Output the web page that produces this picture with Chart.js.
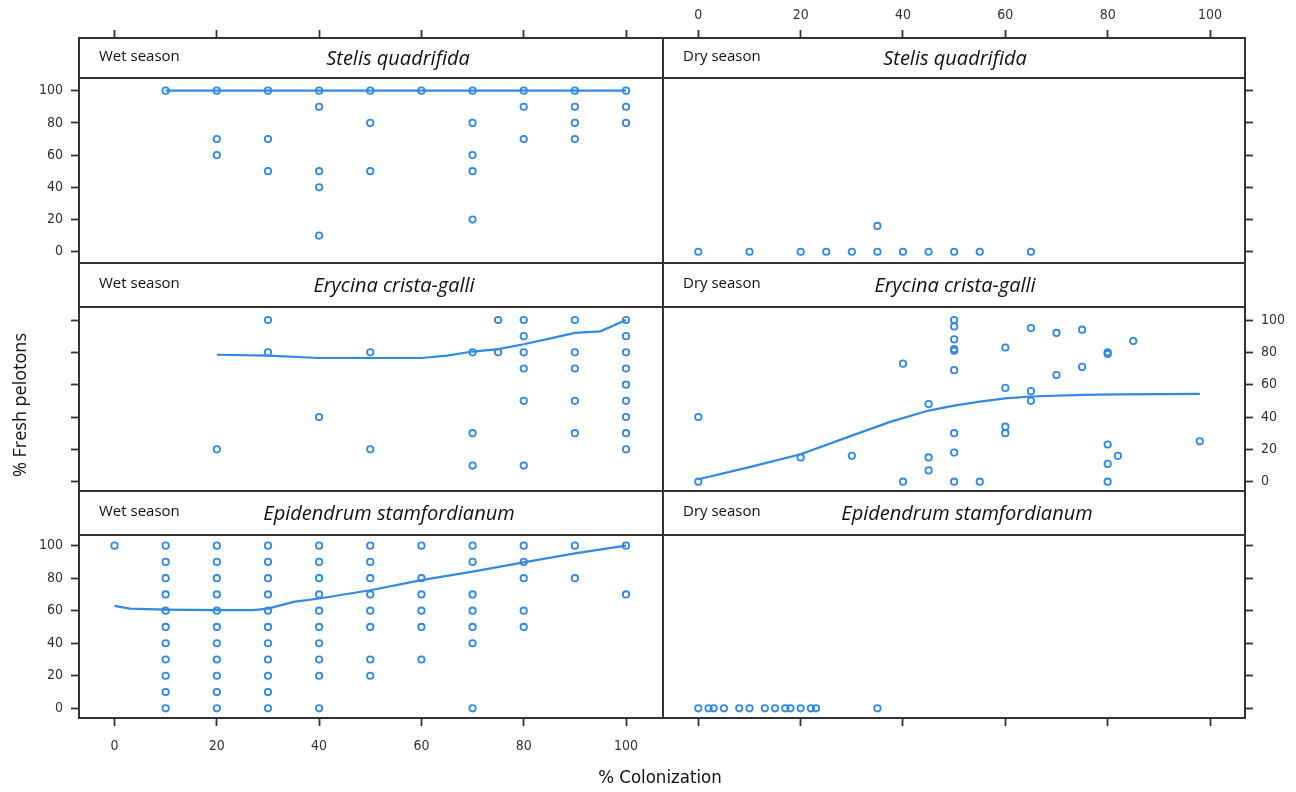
<!DOCTYPE html>
<html>
<head>
<meta charset="utf-8">
<script src="https://cdn.jsdelivr.net/npm/chart.js@4/dist/chart.umd.min.js"></script>
<style>
body{margin:0;background:#fff;width:1296px;height:792px;position:relative;overflow:hidden;font-family:'Open Sans',sans-serif;color:#111;}
canvas{position:absolute;left:0;top:0;}
.strip{position:absolute;box-sizing:border-box;border-bottom:2px solid #333;}
.season{position:absolute;font-size:15px;line-height:1;}
.sp{position:absolute;font-style:italic;font-size:20px;line-height:1;transform:translateX(-50%);white-space:nowrap;}
.ytitle{position:absolute;left:19px;top:405px;font-size:18px;transform:translate(-50%,-50%) rotate(-90deg);white-space:nowrap;}
.xtitle{position:absolute;left:660px;top:776px;font-size:18.5px;transform:translate(-50%,-50%);white-space:nowrap;font-family:'Liberation Sans Narrow','DejaVu Sans Condensed',sans-serif;}
</style>
</head>
<body>
<script>
const xTicks = [0, 20, 40, 60, 80, 100];
const yTicks = [0, 20, 40, 60, 80, 100];
const seasons = ['Wet season', 'Dry season'];
const species = ['Stelis quadrifida', 'Erycina crista-galli', 'Epidendrum stamfordianum'];

// Stelis quadrifida
const wetStelisX = [10, 20,20,20, 30,30,30, 40,40,40,40,40, 50,50,50, 60, 70,70,70,70,70, 80,80,80, 90,90,90,90, 100,100,100];
const wetStelisY = [100, 100,70,60, 100,70,50, 100,90,50,40,10, 100,80,50, 100, 100,80,60,50,20, 100,90,70, 100,90,80,70, 100,90,80];
const wetStelisFitX = [10, 100];
const wetStelisFitY = [100, 100];
const dryStelisX = [0, 10, 20, 25, 30, 35, 35, 40, 45, 50, 55, 65];
const dryStelisY = [0, 0, 0, 0, 0, 0, 16, 0, 0, 0, 0, 0];

// Erycina crista-galli
const wetErycinaX = [20, 30,30, 40, 50,50, 70,70,70, 75,75, 80,80,80,80,80,80, 90,90,90,90,90, 100,100,100,100,100,100,100,100,100];
const wetErycinaY = [20, 100,80, 40, 80,20, 80,30,10, 100,80, 100,90,80,70,50,10, 100,80,70,50,30, 100,90,80,70,60,50,40,30,20];
const wetErycinaFitX = [20, 30, 40, 50, 60, 65, 70, 75, 80, 85, 90, 95, 100];
const wetErycinaFitY = [78.5, 78, 76.5, 76.5, 76.5, 78, 80.5, 82, 85, 88.5, 92, 93, 100];
const dryErycinaX = [0,0, 20, 30, 40,40, 45,45,45, 50,50,50,50,50,50,50,50,50, 55, 60,60,60,60, 65,65,65, 70,70, 75,75, 80,80,80,80,80, 82, 85, 98];
const dryErycinaY = [40,0, 15, 16, 73,0, 48,15,7, 100,96,88,82,81,69,30,18,0, 0, 83,58,34,30, 95,56,50, 92,66, 94,71, 80,79,23,11,0, 16, 87, 25];
const dryErycinaFitX = [0, 10, 20, 30, 37.5, 45, 50, 55, 60, 65, 75, 82, 98];
const dryErycinaFitY = [1.5, 9, 17, 28.5, 37, 44, 47, 49.5, 51.5, 52.7, 53.7, 54, 54.3];

// Epidendrum stamfordianum
const wetEpiX = [0,
  10,10,10,10,10,10,10,10,10,10,10,
  20,20,20,20,20,20,20,20,20,20,20,
  30,30,30,30,30,30,30,30,30,30,30,
  40,40,40,40,40,40,40,40,40,40,
  50,50,50,50,50,50,50,50,
  60,60,60,60,60,60,
  70,70,70,70,70,70,70,
  80,80,80,80,80,
  90,90, 100,100];
const wetEpiY = [100,
  100,90,80,70,60,50,40,30,20,10,0,
  100,90,80,70,60,50,40,30,20,10,0,
  100,90,80,70,60,50,40,30,20,10,0,
  100,90,80,70,60,50,40,30,20,0,
  100,90,80,70,60,50,30,20,
  100,80,70,60,50,30,
  100,90,70,60,50,40,0,
  100,90,80,60,50,
  100,80, 100,70];
const wetEpiFitX = [0, 3, 10, 20, 27, 30, 35, 40, 50, 60, 70, 80, 90, 100];
const wetEpiFitY = [63, 61.3, 60.7, 60.3, 60.3, 61.3, 65.4, 67.5, 72.6, 78.8, 84, 89.7, 95.3, 100];
const dryEpiX = [0, 2, 3, 5, 8, 10, 13, 15, 17, 18, 20, 22, 23, 35];
const dryEpiY = [0, 0, 0, 0, 0, 0, 0, 0, 0, 0, 0, 0, 0, 0];

const panels = [
  {row: 0, col: 0, x: wetStelisX, y: wetStelisY, fx: wetStelisFitX, fy: wetStelisFitY},
  {row: 0, col: 1, x: dryStelisX, y: dryStelisY},
  {row: 1, col: 0, x: wetErycinaX, y: wetErycinaY, fx: wetErycinaFitX, fy: wetErycinaFitY},
  {row: 1, col: 1, x: dryErycinaX, y: dryErycinaY, fx: dryErycinaFitX, fy: dryErycinaFitY},
  {row: 2, col: 0, x: wetEpiX, y: wetEpiY, fx: wetEpiFitX, fy: wetEpiFitY},
  {row: 2, col: 1, x: dryEpiX, y: dryEpiY}
];

// panel boxes in page pixels, axis limits so the strip sits inside the chart area
const cols = [
  {l: 79, r: 663, min: -6.94, max: 107.23},
  {l: 663, r: 1245, min: -6.9, max: 106.84}
];
const rows = [
  {t: 38, s: 78, b: 263, min: -7, max: 132.7},
  {t: 263, s: 307, b: 491, min: -5.75, max: 135.25},
  {t: 491, s: 535, b: 718, min: -5.97, max: 133.6}
];
const speciesX = [[398, 955], [394, 955], [389, 967]];

const W = 1296, H = 792, AX = 40, AY = 34;
const BLUE = '#3089e2';
const FRAME = '#333';
const tickFont = {family: "'Liberation Sans Narrow', 'DejaVu Sans Condensed', sans-serif", size: 14};

function axis(pos, min, max, vals, showTicks, showLabels) {
  const pad = {left: 8, right: 8, top: 6, bottom: 12};
  return {
    type: 'linear',
    position: pos,
    min: min,
    max: max,
    afterBuildTicks: s => { s.ticks = vals.map(v => ({value: v})); },
    afterFit: s => { if (pos === 'top' || pos === 'bottom') s.height = AY; else s.width = AX; },
    grid: {drawOnChartArea: false, drawTicks: showTicks, tickLength: 8, tickColor: FRAME, tickWidth: 1.8},
    border: {display: true, color: FRAME, width: 2},
    ticks: {display: showLabels, color: '#333', font: tickFont, padding: pad[pos]}
  };
}

panels.forEach(p => {
  const c = cols[p.col], r = rows[p.row];
  const cv = document.createElement('canvas');
  cv.width = W; cv.height = H;
  document.body.appendChild(cv);

  const datasets = [{
    data: p.x.map((v, i) => ({x: v, y: p.y[i]})),
    pointRadius: 3.2,
    pointBorderWidth: 1.8,
    borderColor: BLUE,
    backgroundColor: 'rgba(0,0,0,0)',
    showLine: false
  }];
  if (p.fx) {
    datasets.push({
      data: p.fx.map((v, i) => ({x: v, y: p.fy[i]})),
      showLine: true,
      pointRadius: 0,
      borderColor: BLUE,
      borderWidth: 2.2,
      tension: 0
    });
  }

  new Chart(cv, {
    type: 'scatter',
    data: {datasets},
    options: {
      responsive: false,
      animation: false,
      events: [],
      layout: {padding: {left: c.l - AX, right: W - c.r - AX, top: r.t - AY, bottom: H - r.b - AY}},
      plugins: {legend: {display: false}, tooltip: {enabled: false}},
      scales: {
        x: axis('bottom', c.min, c.max, xTicks, p.row === 2, p.row === 2 && p.col === 0),
        x2: axis('top', c.min, c.max, xTicks, p.row === 0, p.row === 0 && p.col === 1),
        y: axis('left', r.min, r.max, yTicks, p.col === 0, p.col === 0 && p.row !== 1),
        y2: axis('right', r.min, r.max, yTicks, p.col === 1, p.col === 1 && p.row === 1)
      }
    }
  });

  // strip with season and species
  const st = document.createElement('div');
  st.className = 'strip';
  st.style.left = c.l + 'px';
  st.style.top = r.t + 'px';
  st.style.width = (c.r - c.l) + 'px';
  st.style.height = (r.s - r.t + 1) + 'px';
  document.body.appendChild(st);

  const se = document.createElement('div');
  se.className = 'season';
  se.textContent = seasons[p.col];
  se.style.left = (c.l + 20) + 'px';
  se.style.top = ((r.t + r.s) / 2 - 10) + 'px';
  document.body.appendChild(se);

  const sp = document.createElement('div');
  sp.className = 'sp';
  sp.textContent = species[p.row];
  sp.style.left = speciesX[p.row][p.col] + 'px';
  sp.style.top = ((r.t + r.s) / 2 - 10) + 'px';
  document.body.appendChild(sp);
});

const yt = document.createElement('div');
yt.className = 'ytitle';
yt.textContent = '% Fresh pelotons';
document.body.appendChild(yt);

const xt = document.createElement('div');
xt.className = 'xtitle';
xt.textContent = '% Colonization';
document.body.appendChild(xt);
</script>
</body>
</html>
